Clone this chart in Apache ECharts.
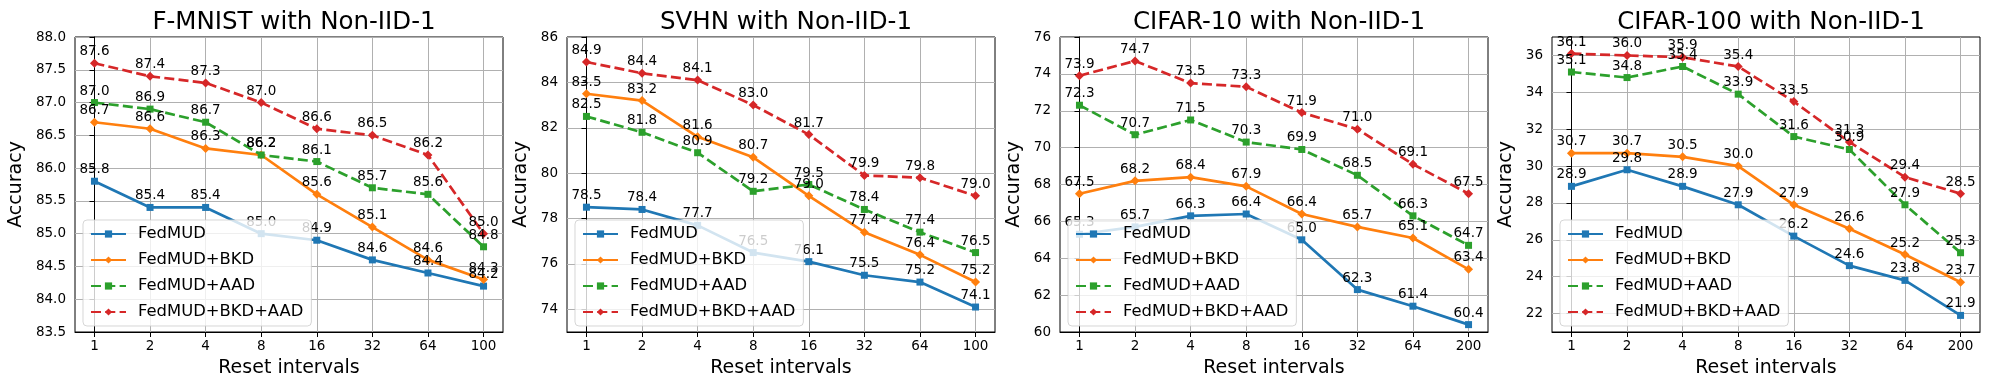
<!DOCTYPE html>
<html>
<head>
<meta charset="utf-8">
<script src="https://cdn.jsdelivr.net/npm/echarts@6/dist/echarts.min.js"></script>
<style>
  html, body { margin: 0; padding: 0; background: #fff; }
  #chart { width: 1989px; height: 390px; }
</style>
</head>
<body>
<div id="chart"></div>
<script>
// method names (legend)
const methods = ['FedMUD', 'FedMUD+BKD', 'FedMUD+AAD', 'FedMUD+BKD+AAD'];
const titles = ['F-MNIST with Non-IID-1', 'SVHN with Non-IID-1', 'CIFAR-10 with Non-IID-1', 'CIFAR-100 with Non-IID-1'];

// reset interval labels
const xLabelsFmnist = ['1', '2', '4', '8', '16', '32', '64', '100'];
const xLabelsSvhn = ['1', '2', '4', '8', '16', '32', '64', '100'];
const xLabelsCifar10 = ['1', '2', '4', '8', '16', '32', '64', '200'];
const xLabelsCifar100 = ['1', '2', '4', '8', '16', '32', '64', '200'];

// F-MNIST
const fmnistBase = [85.8, 85.4, 85.4, 85.0, 84.9, 84.6, 84.4, 84.2];
const fmnistBkd = [86.7, 86.6, 86.3, 86.2, 85.6, 85.1, 84.6, 84.3];
const fmnistAad = [87.0, 86.9, 86.7, 86.2, 86.1, 85.7, 85.6, 84.8];
const fmnistBoth = [87.6, 87.4, 87.3, 87.0, 86.6, 86.5, 86.2, 85.0];

// SVHN
const svhnBase = [78.5, 78.4, 77.7, 76.5, 76.1, 75.5, 75.2, 74.1];
const svhnBkd = [83.5, 83.2, 81.6, 80.7, 79.0, 77.4, 76.4, 75.2];
const svhnAad = [82.5, 81.8, 80.9, 79.2, 79.5, 78.4, 77.4, 76.5];
const svhnBoth = [84.9, 84.4, 84.1, 83.0, 81.7, 79.9, 79.8, 79.0];

// CIFAR-10
const cifar10Base = [65.3, 65.7, 66.3, 66.4, 65.0, 62.3, 61.4, 60.4];
const cifar10Bkd = [67.5, 68.2, 68.4, 67.9, 66.4, 65.7, 65.1, 63.4];
const cifar10Aad = [72.3, 70.7, 71.5, 70.3, 69.9, 68.5, 66.3, 64.7];
const cifar10Both = [73.9, 74.7, 73.5, 73.3, 71.9, 71.0, 69.1, 67.5];

// CIFAR-100
const cifar100Base = [28.9, 29.8, 28.9, 27.9, 26.2, 24.6, 23.8, 21.9];
const cifar100Bkd = [30.7, 30.7, 30.5, 30.0, 27.9, 26.6, 25.2, 23.7];
const cifar100Aad = [35.1, 34.8, 35.4, 33.9, 31.6, 30.9, 27.9, 25.3];
const cifar100Both = [36.1, 36.0, 35.9, 35.4, 33.5, 31.3, 29.4, 28.5];

// y ticks and ranges
const fmnistTicks = [83.5, 84.0, 84.5, 85.0, 85.5, 86.0, 86.5, 87.0, 87.5, 88.0];
const svhnTicks = [74, 76, 78, 80, 82, 84, 86];
const cifar10Ticks = [60, 62, 64, 66, 68, 70, 72, 74, 76];
const cifar100Ticks = [22, 24, 26, 28, 30, 32, 34, 36];
const yRanges = [[83.5, 88.0], [73, 86], [60, 76], [21, 37]];

const panels = [
  { labels: xLabelsFmnist, series: [fmnistBase, fmnistBkd, fmnistAad, fmnistBoth], ticks: fmnistTicks, dec: 1 },
  { labels: xLabelsSvhn, series: [svhnBase, svhnBkd, svhnAad, svhnBoth], ticks: svhnTicks, dec: 0 },
  { labels: xLabelsCifar10, series: [cifar10Base, cifar10Bkd, cifar10Aad, cifar10Both], ticks: cifar10Ticks, dec: 0 },
  { labels: xLabelsCifar100, series: [cifar100Base, cifar100Bkd, cifar100Aad, cifar100Both], ticks: cifar100Ticks, dec: 0 }
];

const colors = ['#1f77b4', '#ff7f0e', '#2ca02c', '#d62728'];
const dash = [10, 4.3];
const lineTypes = ['solid', 'solid', dash, dash];
const symbols = ['rect', 'diamond', 'rect', 'diamond'];
const symbolSizes = [7, 9, 7, 9];
const labelDist = [1, 0, 1, 0];

const gridLefts = [75, 567, 1060, 1552];
const gridW = 428, gridTop = 37, gridH = 295;
const yNameGaps = [49, 36, 36, 36];
const font = 'DejaVu Sans';
const xIdx = [0, 1, 2, 3, 4, 5, 6, 7];

const grid = [], xAxis = [], yAxis = [], series = [], title = [], legend = [];

panels.forEach((p, k) => {
  grid.push({
    left: gridLefts[k], top: gridTop, width: gridW, height: gridH,
    show: true, borderColor: '#000', borderWidth: 1, backgroundColor: 'transparent'
  });
  title.push({
    text: titles[k], left: gridLefts[k] + gridW / 2, top: 5, textAlign: 'center',
    textStyle: { fontFamily: font, fontSize: 24.5, fontWeight: 'normal', color: '#000' }
  });
  xAxis.push({
    type: 'value', gridIndex: k, min: -0.35, max: 7.35,
    name: 'Reset intervals', nameLocation: 'middle', nameGap: 27,
    nameTextStyle: { fontFamily: font, fontSize: 19, color: '#000' },
    axisLine: { show: true, lineStyle: { color: '#000', width: 1 } },
    axisTick: { show: true, length: 5, lineStyle: { color: '#000', width: 1 }, customValues: xIdx },
    axisLabel: {
      color: '#000', fontFamily: font, fontSize: 13.5, margin: 7, customValues: xIdx,
      formatter: v => p.labels[Math.round(v)]
    },
    splitLine: { show: true, lineStyle: { color: '#b0b0b0', width: 1 } }
  });
  yAxis.push({
    type: 'value', gridIndex: k, min: yRanges[k][0], max: yRanges[k][1],
    name: 'Accuracy', nameLocation: 'middle', nameGap: yNameGaps[k],
    nameTextStyle: { fontFamily: font, fontSize: 19, color: '#000' },
    axisLine: { show: true, lineStyle: { color: '#000', width: 1 } },
    axisTick: { show: true, length: 5, lineStyle: { color: '#000', width: 1 }, customValues: p.ticks },
    axisLabel: {
      color: '#000', fontFamily: font, fontSize: 13.5, margin: 9, customValues: p.ticks,
      formatter: v => v.toFixed(p.dec)
    },
    splitLine: { show: true, lineStyle: { color: '#b0b0b0', width: 1 } }
  });
  p.series.forEach((vals, s) => {
    series.push({
      type: 'line', name: methods[s], xAxisIndex: k, yAxisIndex: k,
      data: vals.map((v, i) => [i, v]),
      symbol: symbols[s], symbolSize: symbolSizes[s], showAllSymbol: true,
      lineStyle: { color: colors[s], width: 2.7, type: lineTypes[s] },
      itemStyle: { color: colors[s] },
      label: {
        show: true, position: 'top', distance: labelDist[s],
        color: '#000', fontFamily: font, fontSize: 13.5,
        formatter: d => d.value[1].toFixed(1)
      },
      emphasis: { disabled: true },
      z: 2
    });
  });
  legend.push({
    left: gridLefts[k] + 8, top: 220, orient: 'vertical',
    itemWidth: 35, itemHeight: 9, itemGap: 10,
    padding: [6, 8, 6, 7],
    backgroundColor: 'rgba(255,255,255,0.8)',
    borderColor: 'rgba(204,204,204,0.8)', borderWidth: 1, borderRadius: 4,
    textStyle: { fontFamily: font, fontSize: 16.4, color: '#000', padding: [0, 0, 0, 7] },
    data: methods, selectedMode: false, z: 10
  });
});

const chart = echarts.init(document.getElementById('chart'));
chart.setOption({
  animation: false,
  backgroundColor: '#fff',
  textStyle: { fontFamily: font },
  title, grid, xAxis, yAxis, legend, series
});
</script>
</body>
</html>
